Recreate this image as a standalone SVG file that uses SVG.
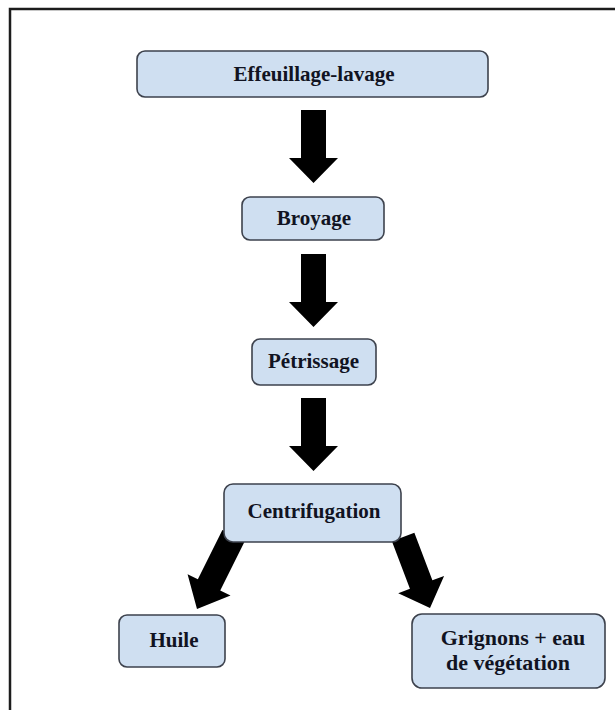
<svg xmlns="http://www.w3.org/2000/svg" width="615" height="710" viewBox="0 0 615 710">
  <style>
    .box { fill: #cfdff1; stroke: #3d424d; stroke-width: 1.6; }
    .lbl { font-family: "Liberation Serif", "Times New Roman", serif; font-weight: bold; font-size: 21px; fill: #111322; text-anchor: middle; }
    .big { font-size: 22px; }
    .arr { fill: #000; }
  </style>
  <defs>
    <polygon id="vArrow" points="-12.5,-73 12.5,-73 12.5,-25 24.5,-25 0,0 -24.5,-25 -12.5,-25"/>
  </defs>
  <rect x="0" y="0" width="615" height="710" fill="#fff"/>
  <rect x="10" y="9" width="700" height="800" fill="none" stroke="#1c1c1c" stroke-width="2.5"/>

  <g id="connectors" class="arr">
    <use href="#vArrow" x="313.5" y="183"/>
    <use href="#vArrow" x="313.5" y="327"/>
    <use href="#vArrow" x="313.5" y="471"/>
    <polygon transform="translate(197,609) rotate(26.5)" points="-12.5,-82 12.5,-82 12.5,-27 24,-27 0,0 -24,-27 -12.5,-27"/>
    <polygon transform="translate(430,608) rotate(-20.7)" points="-12,-76 12,-76 12,-25 24.5,-25 0,0 -24.5,-25 -12,-25"/>
  </g>

  <g id="node-effeuillage">
    <rect class="box" x="137" y="51" width="351" height="46" rx="8"/>
    <text class="lbl" x="314" y="81">Effeuillage-lavage</text>
  </g>
  <g id="node-broyage">
    <rect class="box" x="242" y="197" width="142" height="43" rx="8"/>
    <text class="lbl" x="314" y="225">Broyage</text>
  </g>
  <g id="node-petrissage">
    <rect class="box" x="252" y="339" width="124" height="46" rx="8"/>
    <text class="lbl" x="313.5" y="368">Pétrissage</text>
  </g>
  <g id="node-centrifugation">
    <rect class="box" x="224" y="484" width="177" height="58" rx="9"/>
    <text class="lbl" x="314" y="518">Centrifugation</text>
  </g>
  <g id="node-huile">
    <rect class="box" x="119" y="615" width="106" height="52" rx="8"/>
    <text class="lbl" x="174" y="647">Huile</text>
  </g>
  <g id="node-grignons">
    <rect class="box" x="412" y="614" width="193" height="74" rx="10"/>
    <text class="lbl big" x="513" y="645">Grignons + eau</text>
    <text class="lbl big" x="508" y="670">de végétation</text>
  </g>
</svg>
